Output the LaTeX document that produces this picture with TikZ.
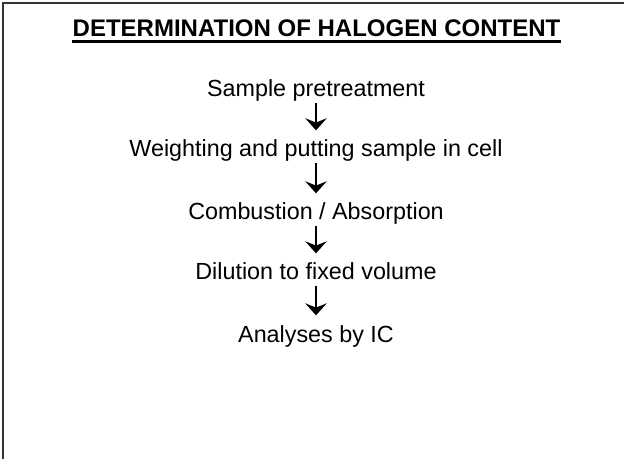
\documentclass[tikz,border=0pt]{standalone}
\usepackage{fontspec}
\setmainfont{Liberation Sans}
\usetikzlibrary{arrows.meta}

\begin{document}
\begin{tikzpicture}[x=0.75pt,y=0.75pt,yscale=-1,xscale=1]
\useasboundingbox (0,0) rectangle (624,459);
\tikzset{stepnode/.style={anchor=base,inner sep=0pt,text height=12.8pt,text depth=3.8pt,font=\fontsize{17.5}{20}\selectfont},
  flow/.style={line width=1.5pt,shorten >=7pt,shorten <=0.5pt,-{Stealth[length=9pt,width=16pt,inset=3.2pt]}}}

% frame
\draw [line width=1.5pt,black!80] (3,459) -- (3,3) -- (624,3) ;

% Title
\node (title) at (316.5,37) [anchor=base,inner sep=0pt,font=\fontsize{18}{21}\selectfont\bfseries] {DETERMINATION OF HALOGEN CONTENT};
\draw [line width=2.2pt] ([yshift=3.6pt]title.base west) -- ([yshift=3.6pt]title.base east);

% Steps
\node (pretreat) at (316,97) [stepnode] {Sample pretreatment};
\node (weigh) at (316,157) [stepnode] {Weighting and putting sample in cell};
\node (combust) at (316,220) [stepnode] {Combustion / Absorption};
\node (dilute) at (316,280) [stepnode] {Dilution to fixed volume};
\node (ic) at (316,342) [stepnode] {Analyses by IC};

% Arrows
\draw [flow] (pretreat) -- (weigh);
\draw [flow] (weigh) -- (combust);
\draw [flow] (combust) -- (dilute);
\draw [flow] (dilute) -- (ic);

\end{tikzpicture}
\end{document}
